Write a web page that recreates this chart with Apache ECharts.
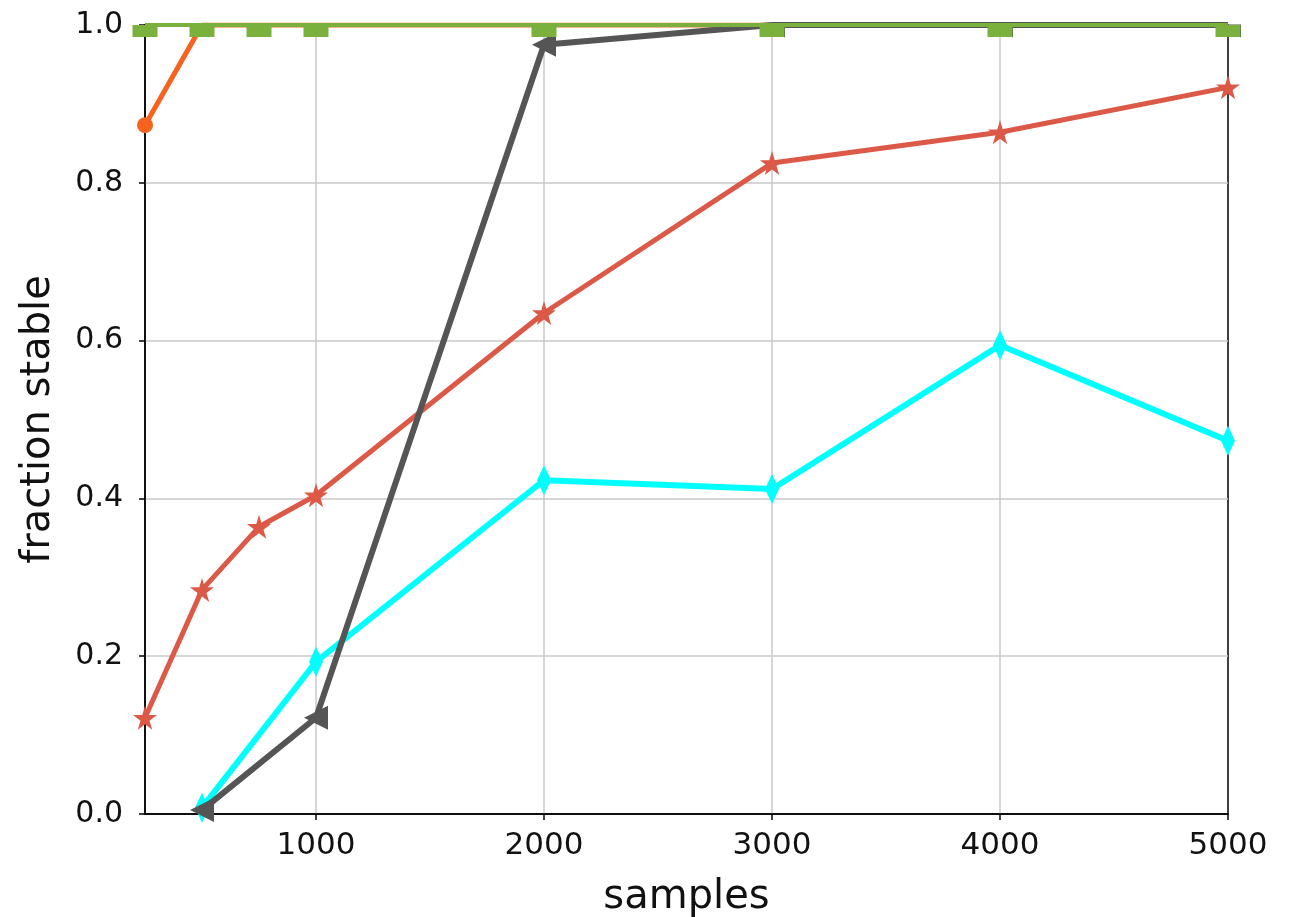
<!DOCTYPE html>
<html>
<head>
<meta charset="utf-8">
<script src="https://cdn.jsdelivr.net/npm/echarts@6/dist/echarts.min.js"></script>
<style>html,body{margin:0;padding:0;background:#fff;}#c{width:1292px;height:917px;}</style>
</head>
<body>
<div id="c"></div>
<script>
const xTicks = [1000, 2000, 3000, 4000, 5000];
const yTicksFmt = 1;
const orangeX = [250, 500, 750, 1000, 2000, 3000, 4000, 5000];
const orangeY = [0.873, 1.0, 1.0, 1.0, 1.0, 1.0, 1.0, 1.0];
const greenX = [250, 500, 750, 1000, 2000, 3000, 4000, 5000];
const greenY = [1.0, 1.0, 1.0, 1.0, 1.0, 1.0, 1.0, 1.0];
const grayX = [500, 1000, 2000, 3000, 4000, 5000];
const grayY = [0.005, 0.122, 0.975, 1.0, 1.0, 1.0];
const redX = [250, 500, 750, 1000, 2000, 3000, 4000, 5000];
const redY = [0.122, 0.284, 0.364, 0.404, 0.635, 0.825, 0.864, 0.921];
const cyanX = [500, 1000, 2000, 3000, 4000, 5000];
const cyanY = [0.008, 0.193, 0.423, 0.412, 0.594, 0.473];

const pair = (xs, ys) => xs.map((x, i) => [x, ys[i]]);
const star = 'path://M50,0 L61,35 L98,35 L68,57 L79,91 L50,70 L21,91 L32,57 L2,35 L39,35 Z';
const halfLeftTri = 'path://M0,0 L100,0 L100,50 Z';
const font = 'DejaVu Sans';

// points sitting on the top frame are drawn only below it (the reference clips at the frame)
const orangeData = pair(orangeX, orangeY).map(p => p[1] >= 1 ? { value: p, symbol: 'none' } : p);
const grayData = pair(grayX, grayY).map(p => p[1] >= 1 ? { value: p, symbol: halfLeftTri, symbolRotate: 0, symbolSize: [26, 13], symbolOffset: [0, 6] } : p);

const chart = echarts.init(document.getElementById('c'));
chart.setOption({
  animation: false,
  grid: { left: 145, right: 64, top: 25, bottom: 103, outerBoundsMode: 'none', containLabel: false, show: true, borderColor: '#000', borderWidth: 1.5, backgroundColor: 'transparent' },
  xAxis: {
    type: 'value', min: 250, max: 5000,
    name: 'samples', nameLocation: 'middle', nameGap: 64,
    nameTextStyle: { fontFamily: font, fontSize: 40, color: '#111' },
    axisLine: { show: true, onZero: false, lineStyle: { color: '#000', width: 1.5 } },
    axisTick: { show: true, length: 6, customValues: xTicks, lineStyle: { color: '#000', width: 1.5 } },
    axisLabel: { customValues: xTicks, fontFamily: font, fontSize: 31, color: '#111', margin: 16, formatter: v => String(v) },
    splitLine: { show: true, showMaxLine: false, lineStyle: { color: '#c8c8c8', width: 1.5 } }
  },
  yAxis: {
    type: 'value', min: 0, max: 1, interval: 0.2,
    name: 'fraction stable', nameLocation: 'middle', nameGap: 86,
    nameTextStyle: { fontFamily: font, fontSize: 40, color: '#111' },
    axisLine: { show: true, onZero: false, lineStyle: { color: '#000', width: 1.5 } },
    axisTick: { show: true, length: 6, lineStyle: { color: '#000', width: 1.5 } },
    axisLabel: { fontFamily: font, fontSize: 30, color: '#111', margin: 22, formatter: v => v.toFixed(yTicksFmt) },
    splitLine: { show: true, showMaxLine: false, showMinLine: false, lineStyle: { color: '#c8c8c8', width: 1.5 } }
  },
  series: [
    { type: 'line', data: orangeData, color: '#f5631f', lineStyle: { width: 5 }, symbol: 'circle', symbolSize: 16, z: 2 },
    { type: 'line', data: pair(redX, redY), color: '#dc5847', lineStyle: { width: 5 }, symbol: star, symbolSize: 24, z: 3 },
    { type: 'line', data: pair(cyanX, cyanY), color: '#00ffff', lineStyle: { width: 6 }, symbol: 'diamond', symbolSize: [14, 30], z: 4 },
    { type: 'line', data: grayData, color: '#555555', lineStyle: { width: 6 }, symbol: 'triangle', symbolRotate: 90, symbolSize: 24, z: 5 },
    { type: 'line', data: pair(greenX, greenY), color: '#7ab03c', lineStyle: { width: 4 }, symbol: 'rect', symbolSize: [25, 12], symbolOffset: [0, 6], z: 6 }
  ]
});
</script>
</body>
</html>
